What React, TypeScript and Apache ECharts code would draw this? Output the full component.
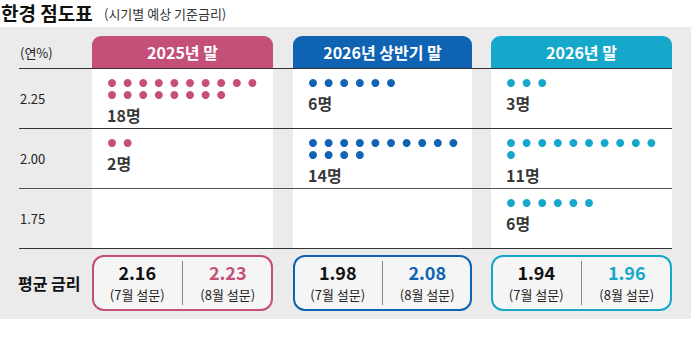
import React, { useEffect, useRef } from "react";
import * as echarts from "echarts";

const categories = ["2025년 말", "2026년 상반기 말", "2026년 말"];
const rates = [2.25, 2.0, 1.75];
// counts[column][rateIndex]
const counts = [
  [18, 2, 0],
  [6, 14, 0],
  [3, 11, 6],
];
const avgJuly = [2.16, 1.98, 1.94];
const avgAug = [2.23, 2.08, 1.96];
const surveyLabels = ["(7월 설문)", "(8월 설문)"];
const colors = ["#c44f79", "#0e63b3", "#16a8ca"];

const FONT = "'Noto Sans CJK KR', 'Noto Sans', sans-serif";

export default function App() {
  const ref = useRef<HTMLDivElement>(null);

  useEffect(() => {
    document.body.style.margin = "0";
    if (!ref.current) return;
    const chart = echarts.init(ref.current, null, { renderer: "svg" });

    const colLeft = [92, 293, 491];
    const colWidth = [181, 179, 181];
    const gridTop = 68;
    const rowH = 60;
    const gridH = rowH * 3;
    const pxPerUnitY = rowH / 0.25;
    const dotPitch = 15.6;
    const dotLead = 20;
    const perRow = 10;

    const grids: any[] = [];
    const xAxes: any[] = [];
    const yAxes: any[] = [];
    const series: any[] = [];
    const graphics: any[] = [];

    // background
    graphics.push({
      type: "rect",
      z: -100,
      shape: { x: 0, y: 27, width: 691, height: 292 },
      style: { fill: "#ebebeb" },
    });

    categories.forEach((cat, c) => {
      grids.push({
        left: colLeft[c],
        top: gridTop,
        width: colWidth[c],
        height: gridH,
        show: true,
        backgroundColor: "#ffffff",
        borderWidth: 0,
      });
      const xmin = -dotLead / dotPitch;
      xAxes.push({
        gridIndex: c,
        type: "value",
        min: xmin,
        max: xmin + colWidth[c] / dotPitch,
        show: false,
      });
      yAxes.push({
        gridIndex: c,
        type: "value",
        min: 1.625,
        max: 2.375,
        show: c === 0,
        axisLine: { show: false },
        axisTick: { show: false },
        splitLine: { show: false },
        axisLabel:
          c === 0
            ? {
                customValues: rates,
                formatter: (v: number) => v.toFixed(2),
                align: "left",
                margin: 72,
                fontSize: 13,
                color: "#222",
                fontFamily: FONT,
              }
            : { show: false },
      });

      const dots: number[][] = [];
      const labels: any[] = [];
      rates.forEach((r, ri) => {
        const n = counts[c][ri];
        if (!n) return;
        const top = r + 0.125;
        const rowsUsed = Math.ceil(n / perRow);
        for (let i = 0; i < n; i++) {
          const row = Math.floor(i / perRow);
          const off = 15 + row * 12;
          dots.push([i % perRow, top - off / pxPerUnitY]);
        }
        const labOff = 15 + (rowsUsed - 1) * 12 + 19.5;
        labels.push({ value: [0, top - labOff / pxPerUnitY], count: n });
      });

      series.push({
        type: "scatter",
        xAxisIndex: c,
        yAxisIndex: c,
        symbolSize: 8,
        itemStyle: { color: colors[c], opacity: 1 },
        data: dots,
        silent: true,
      });
      series.push({
        type: "scatter",
        xAxisIndex: c,
        yAxisIndex: c,
        symbolSize: 0,
        silent: true,
        data: labels,
        label: {
          show: true,
          position: "inside",
          align: "left",
          offset: [-5, 0],
          formatter: (p: any) => `${p.data.count}명`,
          fontSize: 16,
          fontWeight: "bold",
          color: "#000",
          fontFamily: FONT,
        },
      });

      // header tab
      graphics.push({
        type: "rect",
        z: 5,
        shape: { x: colLeft[c], y: 36, width: colWidth[c], height: gridTop - 36, r: [9, 9, 0, 0] },
        style: { fill: colors[c] },
      });
      graphics.push({
        type: "text",
        z: 6,
        x: colLeft[c] + colWidth[c] / 2,
        y: 52,
        style: {
          text: cat,
          fill: "#fff",
          font: `bold 16px ${FONT}`,
          align: "center",
          verticalAlign: "middle",
        },
      });

      // average box
      const bx = colLeft[c];
      const bw = colWidth[c];
      graphics.push({
        type: "rect",
        z: 5,
        shape: { x: bx + 1, y: 256, width: bw - 2, height: 54, r: 11 },
        style: { fill: "#f5f5f5", stroke: colors[c], lineWidth: 2 },
      });
      graphics.push({
        type: "line",
        z: 6,
        shape: { x1: bx + bw / 2, y1: 261, x2: bx + bw / 2, y2: 305 },
        style: { stroke: "#888", lineWidth: 1 },
      });
      [avgJuly[c], avgAug[c]].forEach((v, k) => {
        const cx = bx + bw / 4 + (k * bw) / 2;
        graphics.push({
          type: "text",
          z: 6,
          x: cx,
          y: 272,
          style: {
            text: v.toFixed(2),
            fill: k === 0 ? "#111" : colors[c],
            font: `bold 18px ${FONT}`,
            align: "center",
            verticalAlign: "middle",
          },
        });
        graphics.push({
          type: "text",
          z: 6,
          x: cx,
          y: 294,
          style: {
            text: surveyLabels[k],
            fill: "#222",
            font: `13px ${FONT}`,
            align: "center",
            verticalAlign: "middle",
          },
        });
      });
    });

    // separator lines
    [0, 1, 2, 3].forEach((i) => {
      const y = gridTop + i * rowH + 0.5;
      graphics.push({
        type: "line",
        z: 10,
        shape: { x1: 19, y1: y, x2: 672, y2: y },
        style: { stroke: i === 2 ? "#555" : "#333", lineWidth: 1 },
      });
    });

    graphics.push({
      type: "text",
      z: 6,
      x: 20,
      y: 52,
      style: { text: "(연%)", fill: "#222", font: `13px ${FONT}`, verticalAlign: "middle" },
    });
    graphics.push({
      type: "text",
      z: 6,
      x: 18,
      y: 283,
      style: { text: "평균 금리", fill: "#111", font: `bold 16px ${FONT}`, verticalAlign: "middle" },
    });

    // title
    graphics.push({
      type: "text",
      z: 6,
      x: 1,
      y: 12,
      style: { text: "한경 점도표", fill: "#111", font: `bold 19px ${FONT}`, verticalAlign: "middle" },
    });
    graphics.push({
      type: "text",
      z: 6,
      x: 104,
      y: 13,
      style: { text: "(시기별 예상 기준금리)", fill: "#333", font: `13px ${FONT}`, verticalAlign: "middle" },
    });

    chart.setOption({
      animation: false,
      grid: grids,
      xAxis: xAxes,
      yAxis: yAxes,
      series,
      graphic: { elements: graphics },
    });

    return () => chart.dispose();
  }, []);

  return <div ref={ref} style={{ width: 691, height: 351 }} />;
}
